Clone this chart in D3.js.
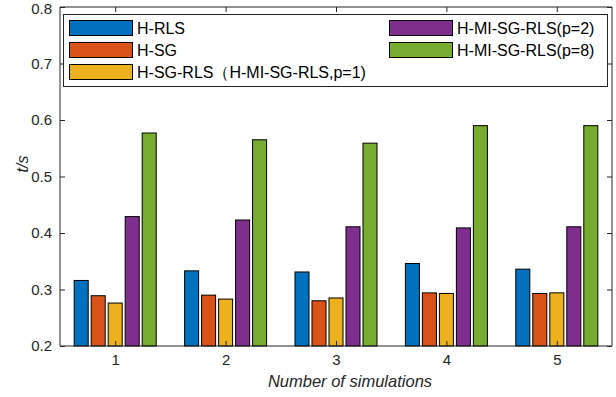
<!DOCTYPE html>
<html>
<head>
<meta charset="utf-8">
<script src="https://cdn.jsdelivr.net/npm/d3@7"></script>
<style>
  body { margin: 0; background: #fff; }
  svg { display: block; font-family: "Liberation Sans", Arial, sans-serif; }
</style>
</head>
<body>
<svg id="chart" width="616" height="397"></svg>
<script>
// data
const groups = [1, 2, 3, 4, 5];
const seriesNames = ["H-RLS", "H-SG", "H-SG-RLS\uFF08H-MI-SG-RLS,p=1)", "H-MI-SG-RLS(p=2)", "H-MI-SG-RLS(p=8)"];
const hRLS    = [0.316, 0.333, 0.331, 0.346, 0.336];
const hSG     = [0.289, 0.290, 0.280, 0.294, 0.293];
const hSGRLS  = [0.276, 0.283, 0.285, 0.293, 0.294];
const hMIp2   = [0.429, 0.423, 0.411, 0.409, 0.411];
const hMIp8   = [0.577, 0.565, 0.559, 0.590, 0.590];
const yTicks  = [0.2, 0.3, 0.4, 0.5, 0.6, 0.7, 0.8];
const colors  = ["#0072BD", "#D95319", "#EDB120", "#7E2F8E", "#77AC30"];

const series = [hRLS, hSG, hSGRLS, hMIp2, hMIp8];

let svg = d3.select('#chart');
let margin = { top: 7, right: 4, bottom: 51, left: 60 };
let width = +svg.attr('width');
let height = +svg.attr('height');
let x0 = margin.left, x1 = width - margin.right;
let y0 = height - margin.bottom, y1 = margin.top;

let x = d3.scaleLinear().domain([0.5, 5.5]).range([x0, x1]);
let y = d3.scaleLinear().domain([0.2, 0.8]).range([y0, y1]);

let pitch = 0.154, barW = 0.127;
let axisColor = "#262626";

// bars
series.forEach((vals, s) => {
    svg.append("g")
        .selectAll("rect")
        .data(groups.map((g, i) => ({ g: g, v: vals[i] })))
        .join("rect")
            .attr("x", d => x(d.g + (s - 2) * pitch - barW / 2))
            .attr("width", x(barW) - x(0))
            .attr("y", d => y(d.v))
            .attr("height", d => y(0.2) - y(d.v))
            .attr("fill", colors[s])
            .attr("stroke", "#000")
            .attr("stroke-width", 1);
});

// axes (MATLAB style, inward ticks, box on)
let tickLen = 5;
let xAxis = d3.axisBottom(x).tickValues(groups).tickSize(-tickLen).tickPadding(8).tickFormat(d3.format("d"));
let yAxis = d3.axisLeft(y).tickValues(yTicks).tickSize(-tickLen).tickPadding(8).tickFormat(d3.format(".1f"));

let gx = svg.append("g").attr("transform", `translate(0,${y0})`).call(xAxis);
let gy = svg.append("g").attr("transform", `translate(${x0},0)`).call(yAxis);
let gxTop = svg.append("g").attr("transform", `translate(0,${y1})`)
    .call(d3.axisTop(x).tickValues(groups).tickSize(-tickLen).tickFormat(""));
let gyRight = svg.append("g").attr("transform", `translate(${x1},0)`)
    .call(d3.axisRight(y).tickValues(yTicks).tickSize(-tickLen).tickFormat(""));

[gx, gy, gxTop, gyRight].forEach(g => {
    g.select(".domain").attr("stroke", axisColor).attr("stroke-width", 1);
    g.selectAll(".tick line").attr("stroke", axisColor);
    g.selectAll(".tick text").attr("fill", axisColor).style("font-size", "15px")
        .style("font-family", '"Liberation Sans", Arial, sans-serif');
});
// keep the top label inside the page
gy.selectAll(".tick text").filter(d => d === 0.8).attr("dy", "0.45em");
gx.select(".domain").attr("d", `M${x0},0H${x1}`);
gxTop.select(".domain").attr("d", `M${x0},0H${x1}`);
gy.select(".domain").attr("d", `M0,${y0}V${y1}`);
gyRight.select(".domain").attr("d", `M0,${y0}V${y1}`);

// axis labels
svg.append("text")
    .attr("x", 350).attr("y", 387)
    .attr("text-anchor", "middle")
    .attr("font-style", "italic").attr("font-size", 16.5).attr("fill", axisColor)
    .text("Number of simulations");
svg.append("text")
    .attr("transform", `translate(28,164) rotate(-90)`)
    .attr("text-anchor", "middle")
    .attr("font-style", "italic").attr("font-size", 16).attr("fill", axisColor)
    .text("t/s");

// legend
let legend = svg.append("g");
legend.append("rect")
    .attr("x", 63.5).attr("y", 14.5).attr("width", 544).attr("height", 72)
    .attr("fill", "#fff").attr("stroke", axisColor).attr("stroke-width", 1);
let legPos = [
    { x: 69, y: 28 }, { x: 69, y: 50 }, { x: 69, y: 72 },
    { x: 389, y: 28 }, { x: 389, y: 50 }
];
seriesNames.forEach((name, i) => {
    let p = legPos[i];
    legend.append("rect")
        .attr("x", p.x + 0.5).attr("y", p.y - 7.5).attr("width", 63).attr("height", 15)
        .attr("fill", colors[i]).attr("stroke", "#000").attr("stroke-width", 1);
    legend.append("text")
        .attr("x", p.x + 68).attr("y", p.y + 6)
        .attr("font-size", 16).attr("fill", "#000")
        .text(name);
});
</script>
</body>
</html>
